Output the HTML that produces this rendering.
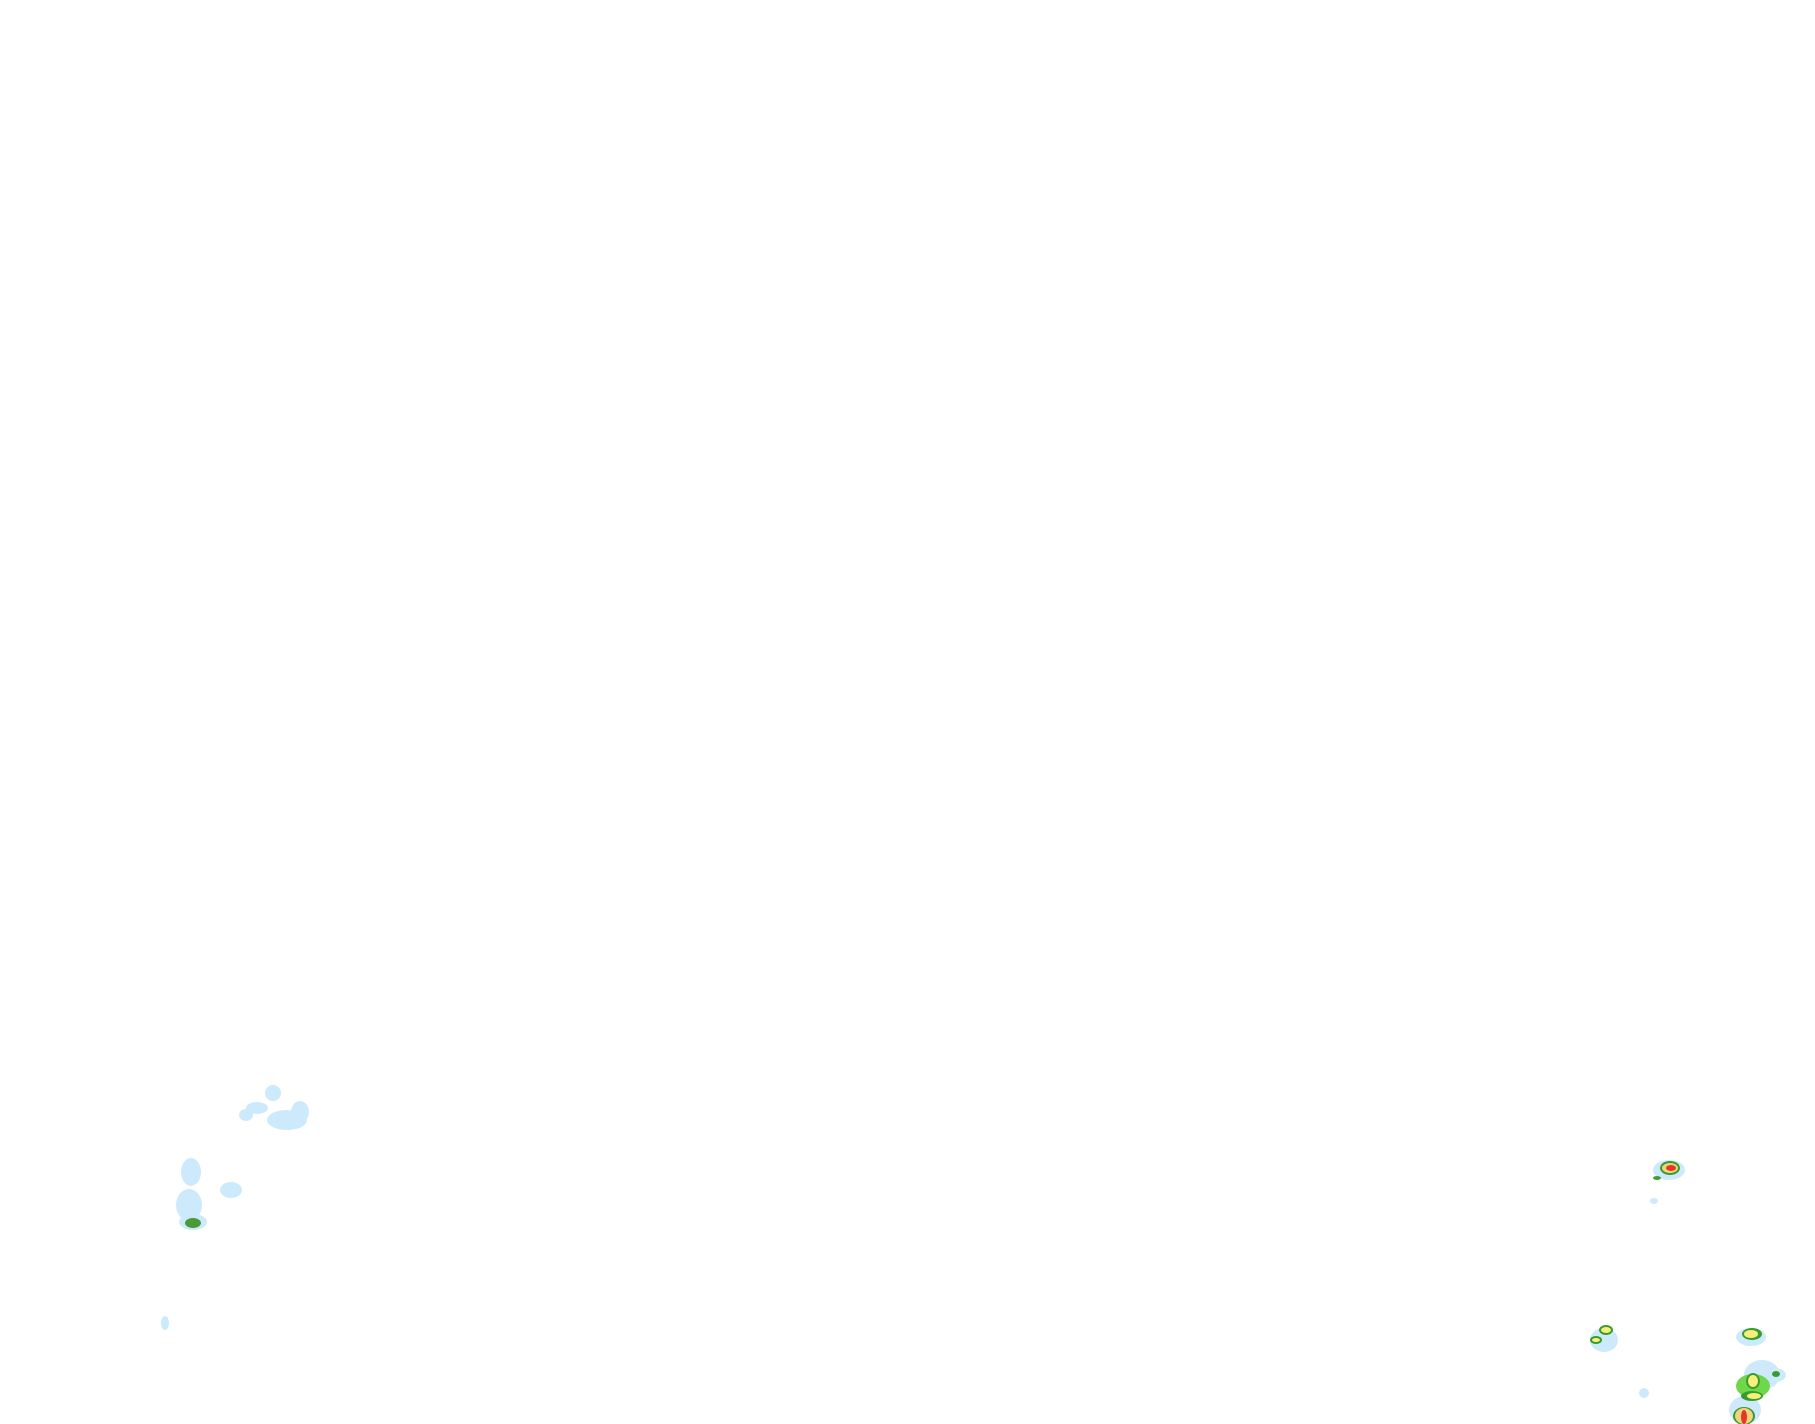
<!DOCTYPE html>
<html><head><meta charset="utf-8"><style>html,body{margin:0;padding:0;background:#fff;width:1815px;height:1424px;overflow:hidden}</style></head>
<body>
<svg width="1815" height="1424" viewBox="0 0 1815 1424" xmlns="http://www.w3.org/2000/svg">
<g fill="#cdeafd">
<ellipse cx="273" cy="1093" rx="8" ry="8"/>
<ellipse cx="257" cy="1108" rx="11" ry="6"/>
<ellipse cx="287" cy="1120" rx="20" ry="10"/>
<ellipse cx="300" cy="1112" rx="9" ry="11"/>
<ellipse cx="246" cy="1115" rx="7" ry="6"/>
<ellipse cx="191" cy="1172" rx="10" ry="14"/>
<ellipse cx="189" cy="1205" rx="13" ry="16"/>
<ellipse cx="193" cy="1222" rx="14" ry="8"/>
<ellipse cx="231" cy="1190" rx="11" ry="8"/>
<ellipse cx="165" cy="1323" rx="4" ry="7"/>
<ellipse cx="1669" cy="1170" rx="16" ry="10"/>
<ellipse cx="1654" cy="1201" rx="4" ry="3"/>
<ellipse cx="1604" cy="1340" rx="14" ry="12"/>
<ellipse cx="1751" cy="1337" rx="15" ry="9"/>
<ellipse cx="1762" cy="1375" rx="18" ry="15"/>
<ellipse cx="1775" cy="1375" rx="11" ry="7"/>
<ellipse cx="1745" cy="1410" rx="16" ry="14"/>
<ellipse cx="1644" cy="1393" rx="5" ry="5"/>
</g>
<ellipse cx="193" cy="1223" rx="8" ry="5" fill="#4b9a3a"/>
<ellipse cx="1670" cy="1168" rx="10" ry="7" fill="#3a9c30"/>
<ellipse cx="1670" cy="1168" rx="8" ry="5" fill="#f2d27a"/>
<ellipse cx="1671" cy="1168" rx="5" ry="3" fill="#e03a2a"/>
<ellipse cx="1657" cy="1178" rx="4" ry="2" fill="#4b9a3a"/>
<ellipse cx="1606" cy="1330" rx="7" ry="5" fill="#3a9c30"/>
<ellipse cx="1606" cy="1330" rx="5" ry="3" fill="#f5f07a"/>
<ellipse cx="1596" cy="1340" rx="6" ry="4" fill="#3a9c30"/>
<ellipse cx="1596" cy="1340" rx="4" ry="2" fill="#f5f07a"/>
<ellipse cx="1752" cy="1334" rx="10" ry="6" fill="#3a9c30"/>
<ellipse cx="1751" cy="1334" rx="7" ry="4" fill="#f5f07a"/>
<ellipse cx="1753" cy="1386" rx="17" ry="12" fill="#6fd84a"/>
<ellipse cx="1753" cy="1381" rx="7" ry="8" fill="#3a9c30"/>
<ellipse cx="1753" cy="1381" rx="5" ry="6" fill="#f5f07a"/>
<ellipse cx="1752" cy="1396" rx="11" ry="5" fill="#3a9c30"/>
<ellipse cx="1754" cy="1396" rx="7" ry="3" fill="#f5f07a"/>
<ellipse cx="1776" cy="1374" rx="4" ry="3" fill="#3a9c30"/>
<ellipse cx="1744" cy="1416" rx="11" ry="9" fill="#3a9c30"/>
<ellipse cx="1744" cy="1416" rx="9" ry="8" fill="#f2d27a"/>
<ellipse cx="1744" cy="1417" rx="3" ry="7" fill="#e03a2a"/>
</svg>
</body></html>
